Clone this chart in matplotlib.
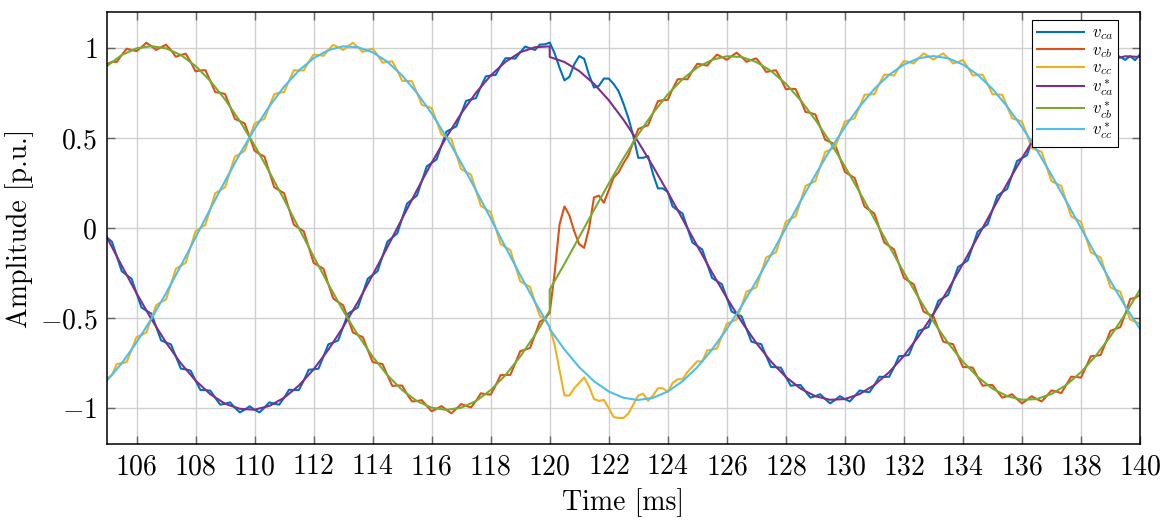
import numpy as np
import matplotlib.pyplot as plt

# sample instants in ms: measured voltages every 1/6 ms, references every 0.5 ms
# (the reference grid repeats t = 120 so the step shows as a vertical jump)
t_meas = np.linspace(105, 140, 211)
t_ref = np.concatenate([np.linspace(105, 120, 31), np.linspace(120, 140, 41)])

v_ca = [
    -0.053, -0.076, -0.158, -0.240, -0.261, -0.282, -0.362, -0.441, -0.459, -0.475,
    -0.550, -0.624, -0.636, -0.646, -0.714, -0.781, -0.785, -0.792, -0.847, -0.900,
    -0.900, -0.903, -0.943, -0.981, -0.976, -0.968, -0.998, -1.024, -1.009, -0.990,
    -1.009, -1.024, -0.998, -0.968, -0.976, -0.981, -0.943, -0.898, -0.900, -0.900,
    -0.847, -0.787, -0.785, -0.781, -0.714, -0.646, -0.636, -0.624, -0.550, -0.475,
    -0.459, -0.441, -0.362, -0.282, -0.261, -0.240, -0.158, -0.076, -0.053, -0.030,
    0.053, 0.136, 0.158, 0.180, 0.261, 0.342, 0.362, 0.381, 0.459, 0.535,
    0.550, 0.564, 0.636, 0.706, 0.714, 0.721, 0.785, 0.842, 0.847, 0.850,
    0.900, 0.943, 0.943, 0.941, 0.976, 1.008, 0.998, 0.989, 1.019, 1.020,
    1.030, 0.970, 0.890, 0.820, 0.840, 0.910, 0.955, 0.940, 0.850, 0.780,
    0.790, 0.830, 0.830, 0.800, 0.760, 0.690, 0.610, 0.510, 0.390, 0.390,
    0.400, 0.300, 0.220, 0.220, 0.200, 0.119, 0.100, 0.080, 0.000, -0.080,
    -0.100, -0.119, -0.199, -0.277, -0.295, -0.312, -0.388, -0.464, -0.478, -0.490,
    -0.561, -0.631, -0.639, -0.645, -0.710, -0.772, -0.773, -0.776, -0.827, -0.876,
    -0.872, -0.872, -0.908, -0.942, -0.934, -0.923, -0.950, -0.974, -0.955, -0.934,
    -0.950, -0.963, -0.934, -0.902, -0.908, -0.912, -0.872, -0.826, -0.827, -0.826,
    -0.773, -0.712, -0.710, -0.705, -0.639, -0.571, -0.561, -0.550, -0.478, -0.404,
    -0.388, -0.372, -0.295, -0.217, -0.199, -0.179, -0.100, -0.020, 0.000, 0.020,
    0.100, 0.179, 0.199, 0.217, 0.295, 0.372, 0.388, 0.404, 0.478, 0.550,
    0.561, 0.571, 0.639, 0.705, 0.710, 0.712, 0.773, 0.826, 0.827, 0.826,
    0.872, 0.912, 0.908, 0.902, 0.934, 0.963, 0.950, 0.934, 0.955, 0.932,
    0.965,
]

v_cb = [
    0.910, 0.923, 0.923, 0.961, 0.996, 0.988, 0.983, 1.004, 1.029, 1.010,
    0.989, 1.004, 1.018, 0.988, 0.951, 0.961, 0.968, 0.923, 0.870, 0.875,
    0.877, 0.817, 0.755, 0.751, 0.744, 0.676, 0.606, 0.594, 0.580, 0.505,
    0.429, 0.411, 0.397, 0.312, 0.226, 0.210, 0.193, 0.106, 0.018, 0.000,
    -0.018, -0.106, -0.193, -0.210, -0.226, -0.312, -0.392, -0.411, -0.429, -0.505,
    -0.580, -0.594, -0.606, -0.676, -0.744, -0.751, -0.755, -0.817, -0.877, -0.875,
    -0.875, -0.923, -0.963, -0.961, -0.956, -0.988, -1.018, -1.004, -0.989, -1.010,
    -1.029, -1.004, -0.978, -0.988, -0.996, -0.961, -0.918, -0.923, -0.925, -0.875,
    -0.817, -0.817, -0.815, -0.751, -0.684, -0.676, -0.666, -0.594, -0.520, -0.505,
    -0.470, -0.250, 0.020, 0.120, 0.070, -0.020, -0.090, -0.110, 0.000, 0.170,
    0.180, 0.140, 0.210, 0.280, 0.310, 0.360, 0.404, 0.478, 0.550, 0.561,
    0.571, 0.639, 0.705, 0.710, 0.712, 0.773, 0.826, 0.827, 0.826, 0.872,
    0.912, 0.908, 0.902, 0.934, 0.963, 0.950, 0.934, 0.955, 0.974, 0.950,
    0.923, 0.934, 0.942, 0.908, 0.867, 0.872, 0.876, 0.827, 0.771, 0.773,
    0.772, 0.710, 0.645, 0.639, 0.631, 0.561, 0.490, 0.478, 0.464, 0.388,
    0.312, 0.295, 0.277, 0.199, 0.119, 0.100, 0.080, 0.000, -0.080, -0.100,
    -0.119, -0.199, -0.277, -0.295, -0.312, -0.388, -0.464, -0.478, -0.490, -0.561,
    -0.631, -0.639, -0.645, -0.710, -0.772, -0.773, -0.776, -0.827, -0.876, -0.872,
    -0.872, -0.908, -0.942, -0.934, -0.923, -0.950, -0.974, -0.955, -0.934, -0.950,
    -0.963, -0.934, -0.902, -0.908, -0.917, -0.872, -0.826, -0.827, -0.831, -0.773,
    -0.712, -0.710, -0.705, -0.639, -0.571, -0.561, -0.550, -0.478, -0.394, -0.388,
    -0.372,
]

v_cc = [
    -0.835, -0.817, -0.755, -0.751, -0.744, -0.676, -0.606, -0.594, -0.580, -0.505,
    -0.429, -0.411, -0.397, -0.312, -0.226, -0.210, -0.193, -0.106, -0.018, 0.000,
    0.018, 0.106, 0.193, 0.210, 0.226, 0.312, 0.397, 0.411, 0.429, 0.505,
    0.580, 0.594, 0.606, 0.676, 0.744, 0.751, 0.755, 0.817, 0.877, 0.875,
    0.875, 0.923, 0.963, 0.961, 0.956, 0.988, 1.018, 1.004, 0.989, 1.010,
    1.029, 1.004, 0.978, 0.988, 0.996, 0.961, 0.918, 0.923, 0.925, 0.875,
    0.817, 0.817, 0.815, 0.751, 0.684, 0.676, 0.666, 0.594, 0.520, 0.505,
    0.494, 0.411, 0.327, 0.312, 0.296, 0.210, 0.123, 0.106, 0.088, 0.000,
    -0.088, -0.106, -0.123, -0.210, -0.296, -0.312, -0.327, -0.411, -0.489, -0.505,
    -0.550, -0.650, -0.790, -0.930, -0.930, -0.890, -0.860, -0.830, -0.880, -0.950,
    -0.960, -0.955, -1.000, -1.050, -1.055, -1.055, -1.030, -0.980, -0.930, -0.920,
    -0.960, -0.930, -0.890, -0.890, -0.910, -0.860, -0.840, -0.840, -0.800, -0.770,
    -0.740, -0.742, -0.680, -0.675, -0.669, -0.601, -0.531, -0.520, -0.508, -0.434,
    -0.353, -0.342, -0.330, -0.247, -0.164, -0.149, -0.135, -0.050, 0.035, 0.050,
    0.065, 0.149, 0.234, 0.247, 0.260, 0.342, 0.423, 0.434, 0.448, 0.520,
    0.591, 0.601, 0.609, 0.675, 0.740, 0.742, 0.743, 0.801, 0.852, 0.851,
    0.847, 0.892, 0.928, 0.922, 0.914, 0.943, 0.970, 0.954, 0.935, 0.954,
    0.970, 0.943, 0.914, 0.922, 0.933, 0.892, 0.847, 0.851, 0.852, 0.801,
    0.743, 0.742, 0.740, 0.675, 0.609, 0.601, 0.591, 0.520, 0.443, 0.434,
    0.423, 0.342, 0.260, 0.247, 0.234, 0.149, 0.065, 0.050, 0.035, -0.050,
    -0.135, -0.149, -0.164, -0.247, -0.330, -0.342, -0.353, -0.434, -0.508, -0.520,
    -0.531,
]

v_ca_ref = [
    -0.053, -0.210, -0.362, -0.505, -0.636, -0.751, -0.847, -0.923, -0.976, -1.004,
    -1.009, -0.988, -0.943, -0.875, -0.785, -0.676, -0.550, -0.411, -0.261, -0.106,
    0.053, 0.210, 0.362, 0.505, 0.636, 0.751, 0.847, 0.923, 0.976, 1.004, 1.009,
    0.950, 0.922, 0.872, 0.801, 0.710, 0.601, 0.478, 0.342, 0.199, 0.050,
    -0.100, -0.247, -0.388, -0.520, -0.639, -0.742, -0.827, -0.892, -0.934, -0.954,
    -0.950, -0.922, -0.872, -0.801, -0.710, -0.601, -0.478, -0.342, -0.199, -0.050,
    0.100, 0.247, 0.388, 0.520, 0.639, 0.742, 0.827, 0.892, 0.934, 0.954, 0.950,
]

v_cb_ref = [
    0.900, 0.961, 0.998, 1.010, 0.998, 0.961, 0.900, 0.817, 0.714, 0.594,
    0.459, 0.312, 0.158, 0.000, -0.158, -0.312, -0.459, -0.594, -0.714, -0.817,
    -0.900, -0.961, -0.998, -1.010, -0.998, -0.961, -0.900, -0.817, -0.714, -0.594, -0.459,
    -0.342, -0.199, -0.050, 0.100, 0.247, 0.388, 0.520, 0.639, 0.742, 0.827,
    0.892, 0.934, 0.954, 0.950, 0.922, 0.872, 0.801, 0.710, 0.601, 0.478,
    0.342, 0.199, 0.050, -0.100, -0.247, -0.388, -0.520, -0.639, -0.742, -0.827,
    -0.892, -0.934, -0.954, -0.950, -0.922, -0.872, -0.801, -0.710, -0.601, -0.478, -0.342,
]

v_cc_ref = [
    -0.847, -0.751, -0.636, -0.505, -0.362, -0.210, -0.053, 0.106, 0.261, 0.411,
    0.550, 0.676, 0.785, 0.875, 0.943, 0.988, 1.009, 1.004, 0.976, 0.923,
    0.847, 0.751, 0.636, 0.505, 0.362, 0.210, 0.053, -0.106, -0.261, -0.411, -0.550,
    -0.561, -0.675, -0.773, -0.851, -0.908, -0.943, -0.955, -0.943, -0.908, -0.851,
    -0.773, -0.675, -0.561, -0.434, -0.295, -0.149, 0.000, 0.149, 0.295, 0.434,
    0.561, 0.675, 0.773, 0.851, 0.908, 0.943, 0.955, 0.943, 0.908, 0.851,
    0.773, 0.675, 0.561, 0.434, 0.295, 0.149, 0.000, -0.149, -0.295, -0.434, -0.561,
]

labels = [r"$v_{ca}$", r"$v_{cb}$", r"$v_{cc}$",
          r"$v^*_{ca}$", r"$v^*_{cb}$", r"$v^*_{cc}$"]
colors = ["#0072BD", "#D95319", "#EDB120", "#7E2F8E", "#77AC30", "#4DBEEE"]

plt.rcParams["font.family"] = "serif"
plt.rcParams["font.serif"] = ["cmr10"]
plt.rcParams["mathtext.fontset"] = "cm"
plt.rcParams["axes.formatter.use_mathtext"] = True

fig, ax = plt.subplots(figsize=(11.72, 5.2), dpi=100)
fig.subplots_adjust(left=0.0913, right=0.9727, bottom=0.146, top=0.977)

series = [(t_meas, v_ca), (t_meas, v_cb), (t_meas, v_cc),
          (t_ref, v_ca_ref), (t_ref, v_cb_ref), (t_ref, v_cc_ref)]
for (t, v), c, lab in zip(series, colors, labels):
    ax.plot(t, v, color=c, lw=1.5, label=lab, solid_joinstyle="round")

ax.set_xlim(105, 140)
ax.set_ylim(-1.2, 1.2)
ax.set_xticks(np.arange(106, 141, 2))
ax.set_yticks([-1, -0.5, 0, 0.5, 1])
ax.set_yticklabels([r"$-1$", r"$-0.5$", r"$0$", r"$0.5$", r"$1$"])
ax.tick_params(direction="in", top=True, right=True, length=6, width=1,
               color="0.4", labelsize=20, pad=7)
ax.grid(True, color="#d0d0d0", lw=1)
ax.set_axisbelow(True)
for s in ax.spines.values():
    s.set_linewidth(1.1)

ax.set_xlabel("Time [ms]", fontsize=20, labelpad=6)
ax.set_ylabel("Amplitude [p.u.]", fontsize=20, labelpad=4)

leg = ax.legend(loc="upper right", bbox_to_anchor=(0.979, 0.981), borderaxespad=0,
                fontsize=12, fancybox=False, framealpha=1, edgecolor="black",
                handlelength=2.8, handletextpad=0.5, labelspacing=0.02,
                borderpad=0.3)
leg.get_frame().set_linewidth(0.8)

fig.savefig("out.png", dpi=100)
